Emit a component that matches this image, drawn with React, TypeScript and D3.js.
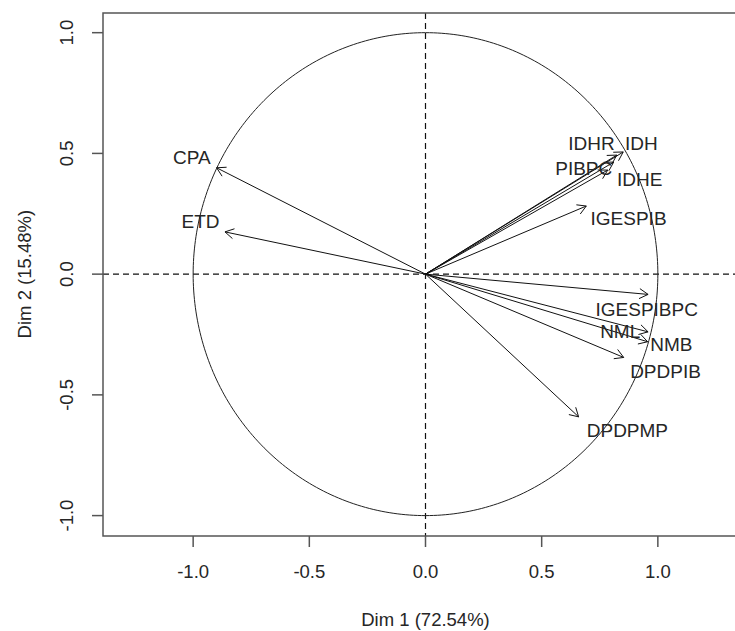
import React from "react";
import * as d3 from "d3";

const variables = ["CPA", "ETD", "IDH", "IDHR", "PIBPC", "IDHE", "IGESPIB", "IGESPIBPC", "NML", "NMB", "DPDPIB", "DPDPMP"];
const dim1 = [-0.899, -0.863, 0.851, 0.823, 0.784, 0.81, 0.692, 0.958, 0.958, 0.956, 0.853, 0.659];
const dim2 = [0.4405, 0.175, 0.506, 0.493, 0.431, 0.464, 0.282, -0.084, -0.239, -0.28, -0.345, -0.591];
const labelX = [-1.006, -0.968, 0.929, 0.714, 0.681, 0.922, 0.874, 0.952, 0.838, 1.058, 1.033, 0.869];
const labelY = [0.484, 0.217, 0.542, 0.542, 0.438, 0.394, 0.231, -0.146, -0.239, -0.29, -0.402, -0.649];
const xTicks = [-1.0, -0.5, 0.0, 0.5, 1.0];
const yTicks = [-1.0, -0.5, 0.0, 0.5, 1.0];
const xTitle = "Dim 1 (72.54%)";
const yTitle = "Dim 2 (15.48%)";

const W = 735;
const H = 631;
const left = 103;
const right = 748;
const top = 13;
const bottom = 536;

export default function App() {
  const x = d3.scaleLinear().domain([-1.388, 1.388]).range([left, right]);
  const y = d3.scaleLinear().domain([-1.0845, 1.0815]).range([bottom, top]);
  const font = "'Liberation Sans', Arial, sans-serif";
  const textColor = "#262626";

  const theta = d3.range(0, 2 * Math.PI + 0.001, Math.PI / 180);
  const circle = d3
    .line<number>()
    .x((t) => x(Math.cos(t)))
    .y((t) => y(Math.sin(t)))(theta);

  const arrows = variables.map((v, i) => {
    const x0 = x(0), y0 = y(0);
    const x1 = x(dim1[i]), y1 = y(dim2[i]);
    const ang = Math.atan2(y1 - y0, x1 - x0);
    const len = 10;
    const a = Math.PI / 6;
    const h1 = [x1 - len * Math.cos(ang - a), y1 - len * Math.sin(ang - a)];
    const h2 = [x1 - len * Math.cos(ang + a), y1 - len * Math.sin(ang + a)];
    return (
      <g key={v}>
        <line x1={x0} y1={y0} x2={x1} y2={y1} stroke="#111" strokeWidth={1} />
        <path d={`M${h1[0]},${h1[1]}L${x1},${y1}L${h2[0]},${h2[1]}`} fill="none" stroke="#111" strokeWidth={1} />
      </g>
    );
  });

  return (
    <div style={{ position: "absolute", left: 0, top: 0 }}>
      <svg width={W} height={H} style={{ display: "block", background: "#fff" }} fontFamily={font}>
        <defs>
          <clipPath id="plotclip">
            <rect x={left} y={top} width={right - left} height={bottom - top} />
          </clipPath>
        </defs>
        <g clipPath="url(#plotclip)">
          <line x1={left} x2={right} y1={y(0)} y2={y(0)} stroke="#111" strokeWidth={1.2} strokeDasharray="6,4" />
          <line x1={x(0)} x2={x(0)} y1={top} y2={bottom} stroke="#111" strokeWidth={1.2} strokeDasharray="6,4" />
          <path d={circle || ""} fill="none" stroke="#222" strokeWidth={1} />
          {arrows}
          {variables.map((v, i) => (
            <text key={v} x={x(labelX[i])} y={y(labelY[i])} dy="0.35em" textAnchor="middle" fontSize={19} fill={textColor}>
              {v}
            </text>
          ))}
        </g>
        <rect x={left} y={top} width={right - left} height={bottom - top} fill="none" stroke="#555" strokeWidth={1.5} />
        {xTicks.map((t) => (
          <g key={"x" + t}>
            <line x1={x(t)} x2={x(t)} y1={bottom} y2={bottom + 11} stroke="#555" strokeWidth={1.5} />
            <text x={x(t)} y={572} dy="0.35em" textAnchor="middle" fontSize={18.5} fill={textColor}>
              {t.toFixed(1)}
            </text>
          </g>
        ))}
        {yTicks.map((t) => (
          <g key={"y" + t}>
            <line x1={left} x2={left - 11} y1={y(t)} y2={y(t)} stroke="#555" strokeWidth={1.5} />
            <text
              transform={`translate(67,${y(t)}) rotate(-90)`}
              dy="0.35em"
              textAnchor="middle"
              fontSize={18.5}
              fill={textColor}
            >
              {t.toFixed(1)}
            </text>
          </g>
        ))}
        <text x={425.5} y={620} dy="0.35em" textAnchor="middle" fontSize={18.5} fill={textColor}>
          {xTitle}
        </text>
        <text transform={`translate(25,${y(0)}) rotate(-90)`} dy="0.35em" textAnchor="middle" fontSize={18.5} fill={textColor}>
          {yTitle}
        </text>
      </svg>
    </div>
  );
}
